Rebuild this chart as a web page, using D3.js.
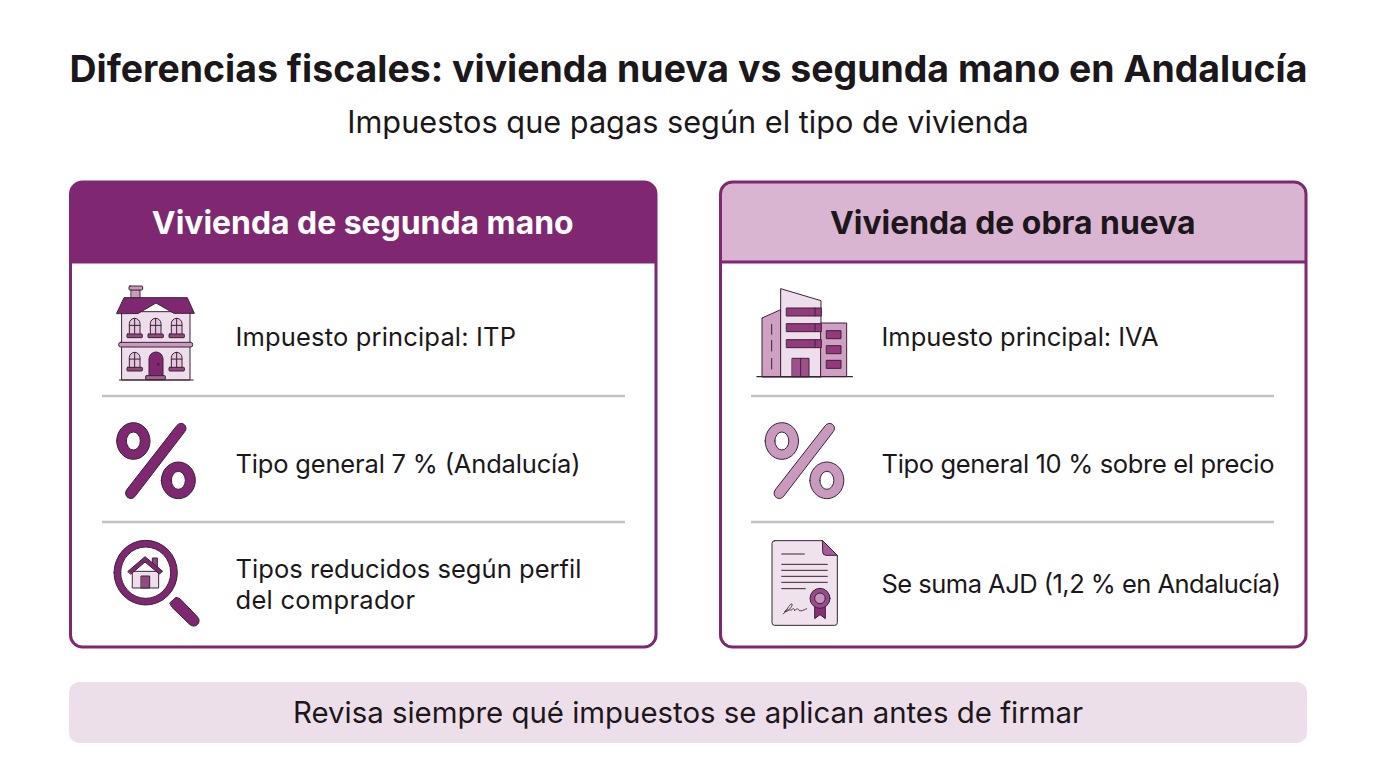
<!DOCTYPE html>
<html lang="es">
<head>
<meta charset="utf-8">
<script src="https://cdn.jsdelivr.net/npm/d3@7"></script>
<style>
  html, body { margin: 0; background: #fff; }
  svg { display: block; }
  text { font-family: Inter, "Noto Sans", sans-serif; fill: #1c171b; }
</style>
</head>
<body>
<div id="container"></div>
<script>
/* CONSTANTS AND GLOBALS */
const width = 1376, height = 768;
const dark = "#7f2771", mid = "#c99abd", pale = "#f0e2ec", ink = "#3a2435";

/* DATA */
const titleText = "Diferencias fiscales: vivienda nueva vs segunda mano en Andalucía";
const subtitleText = "Impuestos que pagas según el tipo de vivienda";
const footerText = "Revisa siempre qué impuestos se aplican antes de firmar";
const cardTitles = ["Vivienda de segunda mano", "Vivienda de obra nueva"];
const usedRows = [["Impuesto principal: ITP"], ["Tipo general 7 % (Andalucía)"], ["Tipos reducidos según perfil", "del comprador"]];
const newRows = [["Impuesto principal: IVA"], ["Tipo general 10 % sobre el precio"], ["Se suma AJD (1,2 % en Andalucía)"]];
// measured line widths, so the text runs end where they do in the picture
const usedWidths = [[280.5], [345], [346, 179.5]];
const newWidths = [[277], [393], [399.5]];
const rowCentres = [337, 464, 584];
const dividers = [396, 522];

const svg = d3.select("#container").append("svg")
  .attr("width", width).attr("height", height);

/* HEADINGS */
svg.append("text").attr("x", 688.5).attr("y", 81.5)
  .attr("text-anchor", "middle").attr("font-size", 37.45).attr("font-weight", 700)
  .text(titleText);
svg.append("text").attr("x", 688).attr("y", 133)
  .attr("text-anchor", "middle").attr("font-size", 30.7).attr("font-weight", 400)
  .text(subtitleText);

/* CARDS */
const cardX = d3.scaleOrdinal().domain(cardTitles).range([70.5, 720.5]);
const cardW = 585.5, cardTop = 182, cardBottom = 647, headH = 80;

cardTitles.forEach((name, i) => {
  const x = cardX(name);
  const g = svg.append("g");
  const fill = i === 0 ? dark : "#d9b5d1";
  g.append("rect").attr("x", x).attr("y", cardTop).attr("width", cardW)
    .attr("height", cardBottom - cardTop).attr("rx", 12).attr("fill", "#fff");
  g.append("path")
    .attr("d", `M${x},${cardTop + headH}V${cardTop + 12}a12,12 0 0 1 12,-12H${x + cardW - 12}a12,12 0 0 1 12,12V${cardTop + headH}Z`)
    .attr("fill", fill);
  g.append("line").attr("x1", x).attr("x2", x + cardW)
    .attr("y1", cardTop + headH).attr("y2", cardTop + headH)
    .attr("stroke", dark).attr("stroke-width", 3);
  g.append("rect").attr("x", x).attr("y", cardTop).attr("width", cardW)
    .attr("height", cardBottom - cardTop).attr("rx", 12)
    .attr("fill", "none").attr("stroke", dark).attr("stroke-width", 3);
  g.append("text").attr("x", x + cardW / 2 - 0.5).attr("y", cardTop + 51.5)
    .attr("text-anchor", "middle").attr("font-size", 31.9).attr("font-weight", 700)
    .style("fill", i === 0 ? "#fff" : "#1c171b")
    .text(name);

  g.selectAll(".divider").data(dividers).join("line")
    .attr("class", "divider")
    .attr("x1", i === 0 ? 102 : 751).attr("x2", i === 0 ? 625 : 1274)
    .attr("y1", d => d).attr("y2", d => d)
    .attr("stroke", "#c4c0c3").attr("stroke-width", 2.6);

  const rows = i === 0 ? usedRows : newRows;
  const fits = i === 0 ? usedWidths : newWidths;
  const textX = i === 0 ? 235.5 : 881.5;
  rows.forEach((lines, r) => {
    lines.forEach((line, k) => {
      g.append("text").attr("font-size", 25.5)
        .attr("x", textX)
        .attr("y", rowCentres[r] + 9 + (k - (lines.length - 1) / 2) * 31)
        .attr("textLength", fits[r][k]).attr("lengthAdjust", "spacing")
        .text(line);
    });
  });
});

/* FOOTER */
svg.append("rect").attr("x", 69).attr("y", 682).attr("width", 1238).attr("height", 61)
  .attr("rx", 10).attr("fill", "#eddfe9");
svg.append("text").attr("x", 688).attr("y", 723)
  .attr("text-anchor", "middle").attr("font-size", 29.4)
  .text(footerText);

/* ICONS - drawn in 3x crop units, so each group is scaled down by 3 */
function icon(x, y) {
  return svg.append("g").attr("transform", `translate(${x},${y}) scale(${1 / 3})`)
    .attr("stroke", ink).attr("stroke-width", 3).attr("stroke-linejoin", "round").attr("stroke-linecap", "round");
}
const add = (g, d, fill, sw) => g.append("path").attr("d", d).attr("fill", fill || "none")
  .attr("stroke-width", sw || null);
const box = (g, x, y, w, h, fill, rx) => g.append("rect").attr("x", x).attr("y", y)
  .attr("width", w).attr("height", h).attr("fill", fill).attr("rx", rx || 0);

function percent(g, fill) {
  const ring = (cx, cy, rx, ry, ix, iy) =>
    `M${cx - rx},${cy}a${rx},${ry} 0 1 0 ${2 * rx},0a${rx},${ry} 0 1 0 ${-2 * rx},0Z` +
    `M${cx - ix},${cy}a${ix},${iy} 0 1 0 ${2 * ix},0a${ix},${iy} 0 1 0 ${-2 * ix},0Z`;
  add(g, ring(100, 93, 50, 55, 21, 27), fill).attr("fill-rule", "evenodd");
  add(g, ring(235, 211, 51, 55, 21, 27), fill).attr("fill-rule", "evenodd");
  add(g, "M231,46a15,15 0 0 1 24,18L106,258a15,15 0 0 1 -27,-17Z", fill);
}

// house
(() => {
  const g = icon(100, 275);
  box(g, 66, 110, 204, 205, "#eeddea");
  add(g, "M50,115L72,68H262L283,115H222L168,84L115,115Z", dark);
  box(g, 94, 44, 26, 24, mid);
  box(g, 87, 33, 41, 12, mid, 3);
  box(g, 56, 202, 222, 14, mid, 6);
  const win = (x, y, h) => {
    add(g, `M${x},${y + h}V${y + 16}a16,16 0 0 1 32,0V${y + h}Z`, "#e3c6dc");
    add(g, `M${x + 16},${y}V${y + h}M${x},${y + h * 0.45}H${x + 32}`);
  };
  [[88, 130, 47], [151, 130, 47], [214, 130, 47], [88, 232, 45], [214, 232, 45]].forEach(d => win(d[0], d[1], d[2]));
  [[81, 177, 46], [144, 177, 46], [207, 177, 46], [81, 277, 46], [207, 277, 46]].forEach(d => box(g, d[0], d[1], d[2], 11, "#95487f", 2));
  add(g, "M147,302V252a21,21 0 0 1 42,0V302Z", dark);
  box(g, 137, 302, 59, 12, "#a6648f", 2);
  add(g, "M58,315H280");
  g.append("circle").attr("cx", 175).attr("cy", 268).attr("r", 2).attr("fill", ink);
})();

// percent, left and right
percent(icon(100, 410), dark);
percent(icon(748.5, 410), mid);

// magnifier with house
(() => {
  const g = icon(100, 410);
  add(g, "M42,488a95,97 0 1 0 190,0a95,97 0 1 0 -190,0ZM62,488a75,77 0 1 1 150,0a75,77 0 1 1 -150,0Z", dark).attr("fill-rule", "evenodd");
  add(g, "M210,578L228,562L240,566L292,620a13,13 0 0 1 -22,24L216,592Z", dark);
  box(g, 98, 484, 78, 50, "#eeddea");
  box(g, 124, 498, 25, 36, "#95487f");
  add(g, "M157,462V444H172V476Z", "#95487f");
  add(g, "M84,484L135,440L188,484L178,492L135,456L93,492Z", dark);
})();

// building
(() => {
  const g = icon(745, 275);
  add(g, "M51,305V129L107,104V305Z", "#cf9fc4");
  add(g, "M107,305V41L228,77V305Z", "#eeddea");
  box(g, 228, 144, 77, 161, "#cf9fc4");
  [[125, 99], [125, 146], [125, 194]].forEach(d => {
    box(g, d[0], d[1], 104, 24, "#95397f");
    add(g, `M210,${d[1]}V${d[1] + 24}`);
  });
  [167, 212, 256].forEach(y => box(g, 245, y, 43, 24, "#95397f"));
  box(g, 142, 250, 50, 55, "#a04f8c");
  add(g, "M167,250V305");
  add(g, "M80,148V178M80,196V228M80,250V282");
  add(g, "M36,305H322", null, 4.2);
})();

// document with seal
(() => {
  const g = icon(750, 410);
  add(g, "M74,392H218L262,436V638a8,8 0 0 1 -8,8H74a8,8 0 0 1 -8,-8V400a8,8 0 0 1 8,-8Z", "#f0e2ec");
  add(g, "M218,392L262,436H228a10,10 0 0 1 -10,-10Z", "#a9589a");
  [[95, 163, 432], [95, 232, 463], [95, 232, 481], [95, 232, 499], [95, 232, 517], [95, 166, 536]].forEach(d =>
    add(g, `M${d[0]},${d[2]}H${d[1]}`));
  add(g, "M100,612C112,598 122,578 126,582C130,590 106,612 104,604C112,596 122,602 124,600C130,594 134,596 134,602C140,594 146,596 148,602C154,604 162,600 170,596", null, 2.6);
  add(g, "M194,585V626L210,614L226,626V585Z", "#85307a");
  g.append("circle").attr("cx", 210).attr("cy", 565).attr("r", 30).attr("fill", "#9a4a8c");
  g.append("circle").attr("cx", 210).attr("cy", 565).attr("r", 16).attr("fill", "#c795bb");
})();
</script>
</body>
</html>
